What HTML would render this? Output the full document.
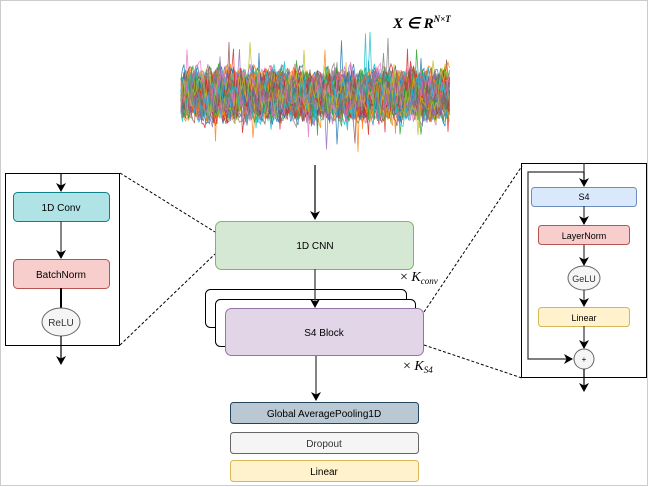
<!DOCTYPE html>
<html><head><meta charset="utf-8"><style>
body{margin:0;background:#fff;}
svg{display:block;font-family:"Liberation Sans",sans-serif;}
</style></head><body>
<svg id="s" width="651" height="487" viewBox="0 0 651 487" xmlns="http://www.w3.org/2000/svg">
<defs><marker id="a" markerWidth="10" markerHeight="10" refX="8" refY="5" orient="auto" markerUnits="userSpaceOnUse"><path d="M0,0 L9,5 L0,10 L2.5,5 z" fill="#000"/></marker></defs>
<rect x="0.5" y="0.5" width="647" height="485" fill="none" stroke="#ccc"/>
<g id="ts"></g>
<text x="393" y="28" font-family="Liberation Serif,serif" font-style="italic" font-weight="bold" font-size="15">X ∈ R<tspan dy="-6" font-size="9">N×T</tspan></text>
<line x1="315" y1="165" x2="315" y2="219" stroke="#000" stroke-width="1.2" marker-end="url(#a)"/>
<!-- left -->
<rect x="5.5" y="173.5" width="114" height="172" fill="none" stroke="#000"/>
<line x1="120" y1="173" x2="215" y2="232" stroke="#000" stroke-dasharray="3,2"/>
<line x1="120" y1="345" x2="215" y2="254" stroke="#000" stroke-dasharray="3,2"/>
<line x1="61" y1="173" x2="61" y2="191" stroke="#000" stroke-width="1.2" marker-end="url(#a)"/>
<rect x="13.5" y="192.5" width="96" height="29" rx="4" fill="#b0e3e6" stroke="#0e8088"/>
<text x="61" y="211" font-size="10" text-anchor="middle">1D Conv</text>
<line x1="61" y1="221" x2="61" y2="258" stroke="#333" stroke-width="1.2" marker-end="url(#a)"/>
<rect x="13.5" y="259.5" width="96" height="29" rx="4" fill="#f8cecc" stroke="#b85450"/>
<text x="61" y="278" font-size="10" text-anchor="middle">BatchNorm</text>
<line x1="61" y1="288" x2="61" y2="308" stroke="#000" stroke-width="2"/>
<ellipse cx="61" cy="322" rx="19" ry="14" fill="#f5f5f5" stroke="#666"/>
<text x="61" y="326" font-size="10" text-anchor="middle" fill="#333">ReLU</text>
<line x1="61" y1="336" x2="61" y2="364" stroke="#000" stroke-width="1.2" marker-end="url(#a)"/>
<!-- center -->
<rect x="215.5" y="221.5" width="198" height="48" rx="6" fill="#d5e8d4" stroke="#82b366"/>
<text x="315" y="249" font-size="10" text-anchor="middle">1D CNN</text>
<text x="400" y="281" font-family="Liberation Serif,serif" font-size="14">× <tspan font-style="italic">K</tspan><tspan font-style="italic" font-size="9" dy="3">conv</tspan></text>
<rect x="205.5" y="289.5" width="201" height="38" rx="5" fill="#fff" stroke="#000"/>
<rect x="215.5" y="299.5" width="200" height="47" rx="5" fill="#fff" stroke="#000"/>
<line x1="315" y1="269" x2="315" y2="307" stroke="#333" stroke-width="1.2" marker-end="url(#a)"/>
<rect x="225.5" y="308.5" width="198" height="47" rx="6" fill="#e1d5e7" stroke="#9673a6"/>
<text x="324" y="336" font-size="10" text-anchor="middle">S4 Block</text>
<text x="403" y="370" font-family="Liberation Serif,serif" font-size="14">× <tspan font-style="italic">K</tspan><tspan font-style="italic" font-size="9" dy="3">S4</tspan></text>
<line x1="424" y1="312" x2="522" y2="166" stroke="#000" stroke-dasharray="3,2"/>
<line x1="424" y1="345" x2="522" y2="378" stroke="#000" stroke-dasharray="3,2"/>
<line x1="316" y1="356" x2="316" y2="400" stroke="#333" stroke-width="1.2" marker-end="url(#a)"/>
<rect x="230.5" y="402.5" width="188" height="21" rx="3" fill="#bac8d3" stroke="#23445d"/>
<text x="324" y="417" font-size="10" text-anchor="middle">Global AveragePooling1D</text>
<rect x="230.5" y="432.5" width="188" height="21" rx="3" fill="#f5f5f5" stroke="#666"/>
<text x="324" y="447" font-size="10" text-anchor="middle" fill="#333">Dropout</text>
<rect x="230.5" y="460.5" width="188" height="21" rx="3" fill="#fff2cc" stroke="#d6b656"/>
<text x="324" y="475" font-size="10" text-anchor="middle">Linear</text>
<!-- right -->
<rect x="521.5" y="163.5" width="125" height="214" fill="none" stroke="#000"/>
<polyline points="584,163 584,172 528,172 528,359 572,359" fill="none" stroke="#333" stroke-width="1.2" marker-end="url(#a)"/>
<line x1="584" y1="172" x2="584" y2="186" stroke="#000" stroke-width="1.2" marker-end="url(#a)"/>
<rect x="531.5" y="187.5" width="105" height="19" rx="3" fill="#dae8fc" stroke="#6c8ebf"/>
<text x="584" y="200" font-size="9" text-anchor="middle">S4</text>
<line x1="584" y1="206" x2="584" y2="224" stroke="#333" stroke-width="1.2" marker-end="url(#a)"/>
<rect x="538.5" y="225.5" width="91" height="19" rx="3" fill="#f8cecc" stroke="#b85450"/>
<text x="584" y="239" font-size="9" text-anchor="middle">LayerNorm</text>
<line x1="584" y1="245" x2="584" y2="265" stroke="#333" stroke-width="1.2" marker-end="url(#a)"/>
<ellipse cx="584" cy="278" rx="16" ry="12" fill="#f5f5f5" stroke="#666"/>
<text x="584" y="282" font-size="9" text-anchor="middle" fill="#333">GeLU</text>
<line x1="584" y1="290" x2="584" y2="306" stroke="#333" stroke-width="1.2" marker-end="url(#a)"/>
<rect x="538.5" y="307.5" width="91" height="19" rx="3" fill="#fff2cc" stroke="#d6b656"/>
<text x="584" y="321" font-size="9" text-anchor="middle">Linear</text>
<line x1="584" y1="326" x2="584" y2="348" stroke="#333" stroke-width="1.2" marker-end="url(#a)"/>
<circle cx="584" cy="359" r="10" fill="#f5f5f5" stroke="#666"/>
<text x="584" y="362" font-size="8" text-anchor="middle">+</text>
<line x1="584" y1="369" x2="584" y2="391" stroke="#000" stroke-width="1.2" marker-end="url(#a)"/>
</svg>
<script>
(function(){
var g=document.getElementById('ts');var ns='http://www.w3.org/2000/svg';
var cols=['#1f77b4','#ff7f0e','#2ca02c','#d62728','#9467bd','#8c564b','#e377c2','#17becf','#bcbd22','#7f7f7f'];
var seed=7;function r(){seed=(seed*16807)%2147483647;return seed/2147483647;}
for(var k=0;k<70;k++){var d='';var v=0;
for(var x=181;x<=450;x+=1.5){v=0.55*v+(r()-0.5)*36;var amp=(r()<0.015)?2.2:1;var y=95+v*amp;if(y<12)y=12;if(y>160)y=160;d+=(x==181?'M':'L')+x.toFixed(1)+','+y.toFixed(1);}
var p=document.createElementNS(ns,'path');p.setAttribute('d',d);p.setAttribute('fill','none');p.setAttribute('stroke',cols[k%10]);p.setAttribute('stroke-width','0.8');p.setAttribute('opacity','0.85');g.appendChild(p);}
})();
</script>
</body></html>
